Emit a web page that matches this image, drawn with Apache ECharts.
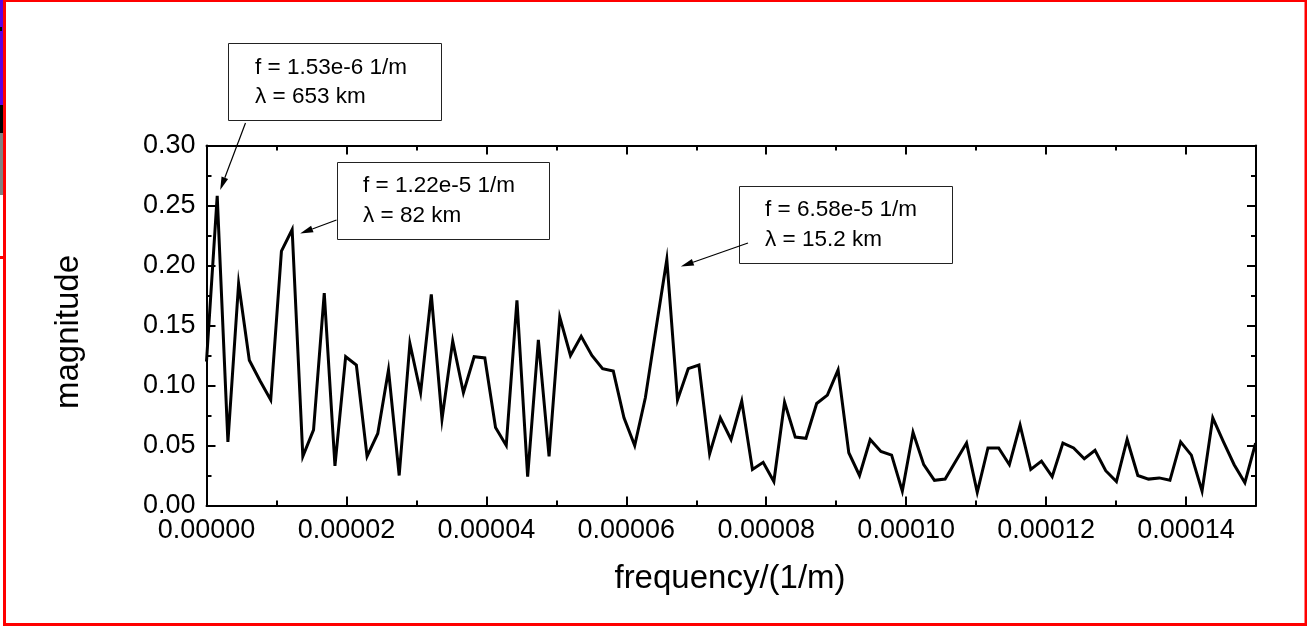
<!DOCTYPE html>
<html>
<head>
<meta charset="utf-8">
<script src="https://cdn.jsdelivr.net/npm/echarts@6/dist/echarts.min.js"></script>
<style>
html, body { margin: 0; padding: 0; background: #fff; }
#chart { width: 1307px; height: 627px; }
</style>
</head>
<body>
<div id="chart"></div>
<script>
// Spectrum: frequency spacing of the transform and the magnitude at each bin
const freqStep = 1.53e-6;
const magnitude = [
  0.120, 0.258, 0.053, 0.185, 0.121, 0.104, 0.088, 0.212, 0.230, 0.041,
  0.063, 0.177, 0.033, 0.124, 0.117, 0.041, 0.060, 0.113, 0.025, 0.135,
  0.094, 0.176, 0.072, 0.137, 0.094, 0.124, 0.123, 0.065, 0.050, 0.171,
  0.024, 0.138, 0.041, 0.157, 0.125, 0.141, 0.125, 0.114, 0.112, 0.073,
  0.050, 0.090, 0.148, 0.205, 0.088, 0.114, 0.117, 0.043, 0.073, 0.055,
  0.087, 0.030, 0.036, 0.020, 0.086, 0.057, 0.056, 0.085, 0.092, 0.113,
  0.044, 0.025, 0.055, 0.045, 0.042, 0.012, 0.061, 0.034, 0.021, 0.022,
  0.037, 0.052, 0.011, 0.048, 0.048, 0.034, 0.067, 0.030, 0.037, 0.024,
  0.052, 0.048, 0.039, 0.046, 0.029, 0.020, 0.055, 0.025, 0.022, 0.023,
  0.021, 0.053, 0.042, 0.012, 0.073, 0.053, 0.034, 0.019, 0.052
];

// Axis tick labels
const xTickLabels = ['0.00000', '0.00002', '0.00004', '0.00006', '0.00008', '0.00010', '0.00012', '0.00014'];
const yTickLabels = ['0.00', '0.05', '0.10', '0.15', '0.20', '0.25', '0.30'];

// Annotated peaks: bin index and the two label lines
const peakBins = [1, 8, 43];
const peakLine1 = ['f = 1.53e-6 1/m', 'f = 1.22e-5 1/m', 'f = 6.58e-5 1/m'];
const peakLine2 = ['653 km', '82 km', '15.2 km'];

// Callout layout: box rectangle, text origin, arrow tail, arrow tip offset from the peak
const calloutBox = [[228, 43, 213, 77], [337, 162, 212, 77], [739, 186, 213, 77]];
const calloutText = [[255, 68, 97], [363, 186, 216], [765, 210, 240]];
const arrowTail = [[245.5, 123], [336.5, 220], [748, 243]];
const arrowTipOffset = [[3, -6], [8, 4], [14, 7]];

const FONT = "'Liberation Sans', Arial, Helvetica, sans-serif";
const points = magnitude.map((m, i) => [i * freqStep, m]);

const chart = echarts.init(document.getElementById('chart'), null, { renderer: 'canvas' });

const gridRect = { left: 206.5, top: 145.5, width: 1049.5, height: 360 };
const lineStyle = { color: '#000', width: 2 };
const tickStyle = { color: '#000', width: 2 };

function xAxisDef(gridIndex, position, interval, tickLen, withLine, withLabels) {
  return {
    type: 'value', gridIndex, position, min: 0, max: 0.00015, interval,
    axisLine: { show: withLine, onZero: false, lineStyle },
    axisTick: { show: true, inside: true, length: tickLen, lineStyle: tickStyle },
    axisLabel: {
      show: withLabels, margin: 12, color: '#000', fontSize: 27, fontFamily: FONT,
      formatter: (v, idx) => (xTickLabels[idx] !== undefined ? xTickLabels[idx] : '')
    },
    splitLine: { show: false }
  };
}

function yAxisDef(gridIndex, position, withLabels, withTicks) {
  return {
    type: 'value', gridIndex, position, min: 0, max: 0.3, interval: 0.05,
    axisLine: { show: withTicks, onZero: false, lineStyle },
    axisTick: { show: withTicks, inside: true, length: 9, lineStyle: tickStyle },
    minorTick: { show: withTicks, splitNumber: 2, length: 5, lineStyle: tickStyle },
    axisLabel: {
      show: withLabels, margin: 11, color: '#000', fontSize: 27, fontFamily: FONT,
      formatter: (v, idx) => (yTickLabels[idx] !== undefined ? yTickLabels[idx] : '')
    },
    splitLine: { show: false },
    minorSplitLine: { show: false }
  };
}

chart.setOption({
  animation: false,
  backgroundColor: '#fff',
  grid: [
    Object.assign({}, gridRect),
    Object.assign({}, gridRect)
  ],
  xAxis: [
    xAxisDef(0, 'bottom', 0.00002, 9, true, true),
    xAxisDef(0, 'top', 0.00002, 9, true, false),
    xAxisDef(1, 'bottom', 0.00001, 5, false, false),
    xAxisDef(1, 'top', 0.00001, 5, false, false)
  ],
  yAxis: [
    yAxisDef(0, 'left', true, true),
    yAxisDef(0, 'right', false, true),
    yAxisDef(1, 'left', false, false)
  ],
  series: [{
    type: 'line',
    xAxisIndex: 0,
    yAxisIndex: 0,
    data: points,
    showSymbol: false,
    symbol: 'none',
    clip: true,
    lineStyle: { color: '#000', width: 3, join: 'miter' },
    z: 3
  }]
});

// Callouts, axis titles and frame
const graphics = [];

// frame around the figure and the strip at its left edge
graphics.push(
  { type: 'rect', shape: { x: 0, y: 0, width: 3, height: 105 }, style: { fill: '#5c00e0' }, z: 10 },
  { type: 'rect', shape: { x: 0, y: 27, width: 2, height: 4 }, style: { fill: '#000' }, z: 11 },
  { type: 'rect', shape: { x: 0, y: 105, width: 3, height: 28 }, style: { fill: '#000' }, z: 10 },
  { type: 'rect', shape: { x: 0, y: 133, width: 3, height: 62 }, style: { fill: '#808080' }, z: 10 },
  { type: 'rect', shape: { x: 0, y: 256, width: 4, height: 3 }, style: { fill: '#ff0000' }, z: 10 },
  { type: 'rect', shape: { x: 4.5, y: 0.5, width: 1301.5, height: 624 },
    style: { fill: 'none', stroke: '#ff0000', lineWidth: 3 }, z: 10 }
);

// axis titles
graphics.push(
  { type: 'text', x: 730, y: 579, z: 10,
    style: { text: 'frequency/(1/m)', font: '33px ' + FONT, fill: '#000',
             align: 'center', verticalAlign: 'middle', textAlign: 'center', textVerticalAlign: 'middle' } },
  { type: 'text', x: 69, y: 332, rotation: Math.PI / 2, z: 10,
    style: { text: 'magnitude', font: '33px ' + FONT, fill: '#000',
             align: 'center', verticalAlign: 'middle', textAlign: 'center', textVerticalAlign: 'middle' } }
);

peakBins.forEach((bin, k) => {
  const b = calloutBox[k];
  const t = calloutText[k];
  graphics.push({ type: 'rect', z: 20, shape: { x: b[0] + 0.5, y: b[1] + 0.5, width: b[2], height: b[3] },
                  style: { fill: '#fff', stroke: '#222', lineWidth: 1 } });
  graphics.push({ type: 'text', z: 21, x: t[0], y: t[1],
                  style: { text: peakLine1[k], font: '22.5px ' + FONT, fill: '#000',
                           align: 'left', verticalAlign: 'middle', textAlign: 'left', textVerticalAlign: 'middle' } });
  graphics.push({ type: 'text', z: 21, x: t[0], y: t[2],
                  style: { text: '{g|λ} = ' + peakLine2[k], font: '22.5px ' + FONT, fill: '#000',
                           align: 'left', verticalAlign: 'middle', textAlign: 'left', textVerticalAlign: 'middle',
                           rich: { g: { font: '22.5px ' + FONT, fill: '#000' } } } });

  // arrow from the box to the peak
  const peak = chart.convertToPixel({ xAxisIndex: 0, yAxisIndex: 0 }, points[bin]);
  const tip = [peak[0] + arrowTipOffset[k][0], peak[1] + arrowTipOffset[k][1]];
  const tail = arrowTail[k];
  const dx = tip[0] - tail[0], dy = tip[1] - tail[1];
  const len = Math.sqrt(dx * dx + dy * dy);
  const ux = dx / len, uy = dy / len;
  const headLen = 13, headHalf = 3.5;
  const base = [tip[0] - ux * headLen, tip[1] - uy * headLen];
  graphics.push({ type: 'line', z: 20, shape: { x1: tail[0], y1: tail[1], x2: base[0], y2: base[1] },
                  style: { stroke: '#000', lineWidth: 1.2 } });
  graphics.push({ type: 'polygon', z: 20,
                  shape: { points: [tip,
                                    [base[0] - uy * headHalf, base[1] + ux * headHalf],
                                    [base[0] + uy * headHalf, base[1] - ux * headHalf]] },
                  style: { fill: '#000' } });
});

chart.setOption({ graphic: graphics });
</script>
</body>
</html>
